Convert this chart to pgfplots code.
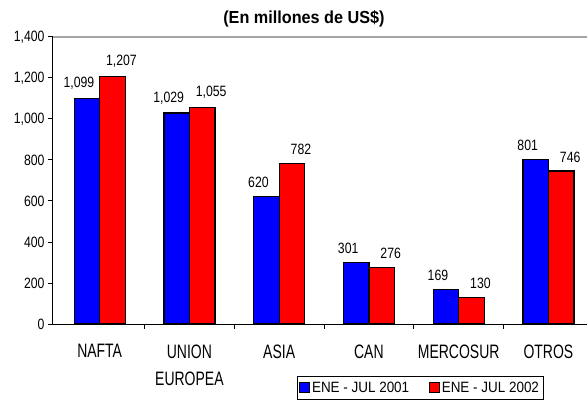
\documentclass[border=0pt]{standalone}
\usepackage{fontspec}
\setmainfont{Liberation Sans}[FakeStretch=0.82]
\newfontfamily\catfont{Liberation Sans}[FakeStretch=0.72]
\newfontfamily\titlefont{Liberation Sans}[FakeStretch=0.93]
\newfontfamily\legfont{Liberation Sans}[FakeStretch=0.9]
\usepackage{pgfplots}
\pgfplotsset{compat=1.18}
\definecolor{barblue}{RGB}{0,0,255}
\definecolor{barred}{RGB}{255,0,0}
\pgfplotstableread{
x y
0 1099
1 1029
2 620
3 301
4 169
5 801
}\dataA
\pgfplotstableread{
x y
0 1207
1 1055
2 782
3 276
4 130
5 746
}\dataB
\begin{document}
\begin{tikzpicture}
\begin{axis}[name=ax, scale only axis, width=534bp, height=287bp,
  ymin=0, ymax=1400, xmin=-0.52, xmax=5.43,
  ybar=0pt, bar width=0.284,
  axis x line*=bottom, axis y line*=left,
  axis line style={line width=1bp, black, -},
  /pgf/number format/assume math mode=true,
  /pgf/number format/1000 sep={,},
  ytick={0,200,...,1400},
  yticklabel style={font=\fontsize{15}{17}\selectfont},
  tick align=outside, major tick length=5bp,
  tick style={line width=1bp, black},
  xtick={0.5,1.5,2.5,3.5,4.5}, xticklabels={},
  extra x ticks={0,1,2,3,4,5},
  extra x tick labels={NAFTA,{UNION\\EUROPEA},ASIA,CAN,MERCOSUR,OTROS},
  extra x tick style={major tick length=0pt, tick label style={font=\catfont\fontsize{19.5}{28}\selectfont, align=center, anchor=north, yshift=-17bp}},
  nodes near coords,
  nodes near coords style={font=\fontsize{15}{17}\selectfont, yshift=5bp},
  clip=false,
  legend columns=2,
  legend style={at={(0.457,-0.181)}, anchor=north west, draw=black, line width=0.8bp,
    font=\legfont\fontsize{15}{17}\selectfont,
    /tikz/every even column/.append style={column sep=18bp},
    inner xsep=2bp, inner ysep=3.5bp},
  title={\titlefont\bfseries (En millones de US\$)},
  title style={at={(0.47,1)}, anchor=south, yshift=0bp, font=\titlefont\bfseries\fontsize{17.5}{19}\selectfont},
]
\addplot[fill=barblue, draw=black, line width=1.2bp,
  every node near coord/.append style={xshift=-8bp},
  legend image code/.code={\draw[fill=barblue, draw=black, line width=0.6bp] (0bp,-4bp) rectangle (10bp,6bp);}]
  table[x=x,y=y] {\dataA};
\addlegendentry{ENE - JUL 2001}
\addplot[fill=barred, draw=black, line width=1.2bp,
  every node near coord/.append style={xshift=9bp},
  legend image code/.code={\draw[fill=barred, draw=black, line width=0.6bp] (0bp,-4bp) rectangle (10bp,6bp);}]
  table[x=x,y=y] {\dataB};
\addlegendentry{ENE - JUL 2002}
\draw[gray!70, line width=1.2bp] (rel axis cs:0,1) -- (rel axis cs:1,1);
\end{axis}
\pgfresetboundingbox
\path ([xshift=-53bp,yshift=-78bp]ax.south west) rectangle ([yshift=37bp]ax.north east);
\end{tikzpicture}
\end{document}
